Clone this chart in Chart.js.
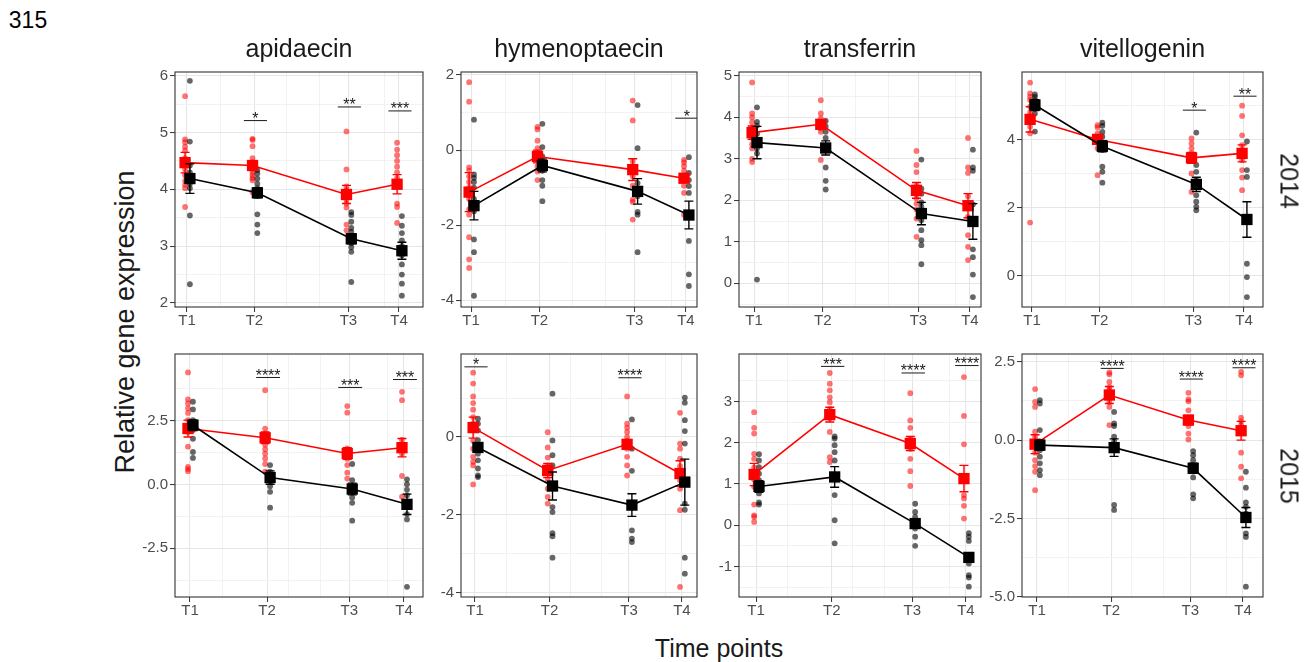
<!DOCTYPE html>
<html>
<head>
<meta charset="utf-8">
<script src="https://cdn.jsdelivr.net/npm/chart.js@4.4.1/dist/chart.umd.min.js"></script>
<style>
  body { margin: 0; background: #fff; width: 1306px; height: 662px; position: relative; overflow: hidden;
         font-family: "Liberation Sans", Arial, sans-serif; }
  canvas { position: absolute; }
  .t { position: absolute; white-space: nowrap; line-height: 1; color: #1a1a1a; transform: translate(-50%, -50%); }
</style>
</head>
<body>
<div class="t" style="left:28px;top:20px;font-size:23px;color:#000">315</div>
<div class="t" style="left:125px;top:322px;font-size:27px;transform:translate(-50%,-50%) rotate(-90deg)">Relative gene expression</div>
<div class="t" style="left:719px;top:648px;font-size:25px">Time points</div>
<script>
const genes = ['apidaecin', 'hymenoptaecin', 'transferrin', 'vitellogenin'];
const years = [2014, 2015];
const timeLabels = ['T1', 'T2', 'T3', 'T4'];
const days2014 = [0, 14, 33.5, 44];
const days2015 = [0, 15.5, 32, 43];
const minorDays2014 = [7, 20.7, 27.5, 41];
const minorDays2015 = [6.5, 19.8, 26.3, 39.6];

// ---- 2014 ----
const apidaecin2014Red = [
  [5.64, 4.88, 4.83, 4.75, 4.68, 4.55, 4.45, 4.35, 4.25, 4.15, 4.08, 4.02, 3.69],
  [4.89, 4.87, 4.76, 4.55, 4.48, 4.42, 4.36, 4.3, 4.25, 4.2, 4.16, 3.95],
  [5.02, 4.35, 4.05, 3.98, 3.9, 3.82, 3.75, 3.68, 3.38, 3.28],
  [4.82, 4.7, 4.6, 4.5, 4.4, 4.3, 4.2, 4.1, 3.75, 3.69, 3.41]
];
const apidaecin2014Black = [
  [5.91, 4.84, 4.42, 4.3, 4.22, 4.15, 4.1, 4.02, 3.54, 2.33],
  [4.34, 4.28, 4.19, 4.1, 4.02, 3.95, 3.88, 3.56, 3.38, 3.23],
  [3.6, 3.55, 3.43, 3.32, 3.25, 3.18, 3.12, 3.05, 2.98, 2.9, 2.37],
  [3.53, 3.36, 3.23, 3.1, 3.0, 2.92, 2.84, 2.68, 2.5, 2.34, 2.13]
];
const apidaecin2014RedMean = [4.47, 4.42, 3.91, 4.09];
const apidaecin2014RedSE = [0.18, 0.07, 0.16, 0.17];
const apidaecin2014BlackMean = [4.19, 3.94, 3.13, 2.92];
const apidaecin2014BlackSE = [0.26, 0.09, 0.09, 0.15];
const apidaecin2014Sig = ['', '*', '**', '***'];
const apidaecin2014SigY = [null, 5.21, 5.45, 5.38];

const hymenoptaecin2014Red = [
  [1.81, 1.29, -0.46, -0.55, -0.7, -0.85, -1.0, -1.15, -1.3, -1.58, -1.72, -2.32, -2.91, -3.14],
  [0.62, 0.55, 0.25, 0.05, -0.1, -0.25, -0.43, -0.57, -0.8],
  [1.32, 0.79, -0.3, -0.52, -0.7, -0.95, -1.32, -1.38, -1.85],
  [-0.26, -0.33, -0.43, -0.55, -0.79, -0.95, -1.14, -1.72]
];
const hymenoptaecin2014Black = [
  [0.81, -0.65, -0.74, -0.85, -1.0, -1.3, -1.5, -1.63, -2.38, -2.72, -3.88],
  [0.7, 0.08, -0.17, -0.3, -0.43, -0.55, -0.8, -0.95, -1.36],
  [1.2, 0.05, -0.88, -1.05, -1.23, -1.65, -1.72, -2.72],
  [-0.19, -0.61, -0.8, -0.96, -1.14, -2.42, -3.31, -3.62]
];
const hymenoptaecin2014RedMean = [-1.12, -0.17, -0.52, -0.75];
const hymenoptaecin2014RedSE = [0.52, 0.17, 0.29, 0.11];
const hymenoptaecin2014BlackMean = [-1.48, -0.41, -1.1, -1.73];
const hymenoptaecin2014BlackSE = [0.38, 0.17, 0.34, 0.37];
const hymenoptaecin2014Sig = ['', '', '', '*'];
const hymenoptaecin2014SigY = [null, null, null, 0.85];

const transferrin2014Red = [
  [4.84, 4.09, 4.0, 3.88, 3.75, 3.62, 3.5, 3.35, 3.25, 3.0, 2.92],
  [4.41, 4.09, 3.97, 3.85, 3.73, 3.65, 2.97],
  [3.19, 2.85, 2.68, 2.35, 2.15, 2.05, 1.92, 1.78, 1.56, 1.12],
  [3.5, 2.79, 2.66, 2.1, 1.84, 1.6, 1.16, 0.88, 0.56]
];
const transferrin2014Black = [
  [4.24, 3.89, 3.8, 3.6, 3.4, 3.25, 3.13, 0.09],
  [3.91, 3.78, 3.65, 3.5, 2.79, 2.47, 2.26],
  [2.98, 2.28, 2.16, 1.95, 1.84, 1.52, 1.28, 1.04, 0.92, 0.46],
  [3.22, 2.79, 2.71, 1.9, 1.5, 0.82, 0.63, 0.21, -0.33]
];
const transferrin2014RedMean = [3.63, 3.83, 2.24, 1.87];
const transferrin2014RedSE = [0.16, 0.1, 0.19, 0.29];
const transferrin2014BlackMean = [3.39, 3.26, 1.68, 1.49];
const transferrin2014BlackSE = [0.39, 0.17, 0.27, 0.43];
const transferrin2014Sig = ['', '', '', ''];
const transferrin2014SigY = [null, null, null, null];

const vitellogenin2014Red = [
  [5.67, 5.35, 5.25, 5.16, 4.96, 4.8, 4.6, 4.37, 4.18, 1.56],
  [4.42, 4.35, 4.18, 4.06, 3.9, 3.74, 2.95],
  [4.03, 3.88, 3.74, 3.6, 3.44, 3.0, 2.46],
  [4.99, 4.69, 4.12, 3.83, 3.6, 3.39, 3.1, 2.88, 2.51]
];
const vitellogenin2014Black = [
  [5.32, 5.25, 5.15, 5.0, 4.9, 4.76, 4.23],
  [4.49, 4.4, 4.22, 4.08, 3.88, 3.69, 3.2, 3.05, 2.73],
  [4.2, 3.25, 3.05, 2.8, 2.36, 2.17, 2.02, 1.92],
  [3.94, 3.1, 2.9, 1.6, 0.35, -0.04, -0.63]
];
const vitellogenin2014RedMean = [4.59, 4.0, 3.46, 3.59];
const vitellogenin2014RedSE = [0.37, 0.11, 0.16, 0.25];
const vitellogenin2014BlackMean = [5.01, 3.8, 2.68, 1.65];
const vitellogenin2014BlackSE = [0.16, 0.16, 0.21, 0.52];
const vitellogenin2014Sig = ['', '', '*', '**'];
const vitellogenin2014SigY = [null, null, 4.86, 5.27];

// ---- 2015 ----
const apidaecin2015Red = [
  [4.39, 3.33, 3.17, 2.98, 2.8, 2.52, 2.3, 2.05, 1.48, 0.69, 0.6, 0.52],
  [3.69, 2.19, 2.0, 1.74, 1.55, 1.38, 1.21, 1.02, 0.8, 0.5],
  [3.07, 2.81, 1.41, 1.28, 1.15, 1.0, 0.76, 0.46, 0.23],
  [3.63, 3.3, 1.74, 1.5, 1.2, 0.33, -0.48]
];
const apidaecin2015Black = [
  [3.24, 2.94, 2.52, 2.3, 2.13, 1.79, 1.27, 1.04],
  [0.76, 0.5, 0.3, 0.1, -0.07, -0.29, -0.91],
  [0.8, 0.17, -0.09, -0.29, -0.51, -0.72, -1.42],
  [0.2, 0.01, -0.2, -0.42, -0.8, -1.16, -1.37, -4.01]
];
const apidaecin2015RedMean = [2.19, 1.83, 1.21, 1.44];
const apidaecin2015RedSE = [0.33, 0.23, 0.23, 0.36];
const apidaecin2015BlackMean = [2.32, 0.27, -0.18, -0.78];
const apidaecin2015BlackSE = [0.21, 0.26, 0.23, 0.4];
const apidaecin2015Sig = ['', '****', '***', '***'];
const apidaecin2015SigY = [null, 4.19, 3.8, 4.11];

const hymenoptaecin2015Red = [
  [1.65, 1.37, 1.04, 0.87, 0.7, 0.51, 0.35, 0.17, -0.1, -0.3, -0.51, -0.64, -0.73, -1.22],
  [0.12, -0.27, -0.53, -0.73, -0.9, -1.11, -1.33, -1.54, -1.71],
  [1.04, 0.34, 0.24, 0.13, 0.0, -0.1, -0.3, -0.51, -0.73, -0.99],
  [0.62, -0.17, -0.3, -0.56, -0.75, -0.9, -1.11, -1.33, -1.88, -3.85]
];
const hymenoptaecin2015Black = [
  [0.47, 0.34, 0.17, -0.08, -0.25, -0.43, -0.6, -0.81, -0.99, -1.03],
  [1.11, -0.09, -0.47, -0.73, -1.2, -1.8, -1.93, -2.47, -2.55, -3.1],
  [0.45, -0.3, -0.87, -2.4, -2.61, -2.7],
  [1.01, 0.88, 0.43, 0.15, -0.17, -1.71, -1.87, -3.1, -3.51]
];
const hymenoptaecin2015RedMean = [0.24, -0.86, -0.19, -0.94];
const hymenoptaecin2015RedSE = [0.27, 0.18, 0.12, 0.33];
const hymenoptaecin2015BlackMean = [-0.27, -1.26, -1.75, -1.16];
const hymenoptaecin2015BlackSE = [0.12, 0.36, 0.29, 0.59];
const hymenoptaecin2015Sig = ['*', '', '****', ''];
const hymenoptaecin2015SigY = [1.8, null, 1.52, null];

const transferrin2015Red = [
  [2.74, 2.36, 2.22, 1.73, 1.61, 1.4, 1.25, 1.1, 0.93, 0.5, 0.24, 0.2, 0.08],
  [3.69, 3.43, 3.27, 3.1, 2.98, 2.82, 2.6, 2.26, 1.65, 1.53],
  [3.2, 2.54, 2.36, 2.1, 1.85, 1.61, 1.31, 0.95],
  [3.59, 2.65, 1.96, 0.73, 0.65, 0.47, 0.16]
];
const transferrin2015Black = [
  [1.72, 1.57, 1.41, 1.25, 1.09, 0.93, 0.77, 0.55, 0.5],
  [2.15, 2.1, 1.94, 1.77, 1.57, 1.2, 0.73, 0.12, -0.44],
  [0.52, 0.32, 0.2, 0.06, -0.08, -0.28, -0.5],
  [-0.19, -0.28, -0.38, -0.75, -0.93, -1.21, -1.27, -1.49]
];
const transferrin2015RedMean = [1.23, 2.68, 1.98, 1.13];
const transferrin2015RedSE = [0.27, 0.18, 0.17, 0.32];
const transferrin2015BlackMean = [0.94, 1.17, 0.04, -0.78];
const transferrin2015BlackSE = [0.14, 0.25, 0.1, 0.1];
const transferrin2015Sig = ['', '***', '****', '****'];
const transferrin2015SigY = [null, 3.85, 3.69, 3.87];

const vitellogenin2015Red = [
  [1.63, 1.22, 1.06, 0.27, 0.1, -0.21, -0.4, -0.64, -0.83, -1.01, -1.6],
  [2.16, 2.1, 1.86, 1.7, 1.6, 1.38, 1.22, 1.06, 0.48],
  [1.51, 1.3, 1.24, 0.95, 0.64, 0.45, 0.21, 0.02],
  [2.18, 2.07, 0.72, 0.6, 0.48, -0.4, -0.85, -1.22]
];
const vitellogenin2015Black = [
  [1.28, 1.17, 0.32, -0.1, -0.32, -0.53, -0.74, -0.96, -1.12],
  [0.9, 0.53, 0.45, 0.11, -0.03, -2.07, -2.23],
  [-0.35, -0.48, -0.64, -0.83, -1.0, -1.19, -1.73, -1.86],
  [-1.01, -1.52, -1.99, -2.13, -2.35, -2.98, -3.09, -4.68]
];
const vitellogenin2015RedMean = [-0.13, 1.44, 0.64, 0.3];
const vitellogenin2015RedSE = [0.3, 0.27, 0.15, 0.3];
const vitellogenin2015BlackMean = [-0.16, -0.24, -0.9, -2.47];
const vitellogenin2015BlackSE = [0.16, 0.28, 0.16, 0.32];
const vitellogenin2015Sig = ['', '****', '****', '****'];
const vitellogenin2015SigY = [null, 2.29, 1.95, 2.31];

// axis setup per panel (row by row): y range, y ticks, minor y grid, decimals, x range
const axes = [
  { y: [1.93, 6.065], ticks: [2, 3, 4, 5, 6], minor: [2.5, 3.5, 4.5, 5.5], dec: 0, x: [-2.49, 48.98] },
  { y: [-4.18, 2.08], ticks: [-4, -2, 0, 2], minor: [-3, -1, 1], dec: 0, x: [-2.06, 46.26] },
  { y: [-0.57, 5.09], ticks: [0, 1, 2, 3, 4, 5], minor: [-0.5, 0.5, 1.5, 2.5, 3.5, 4.5], dec: 0, x: [-3.07, 46.25] },
  { y: [-0.92, 5.98], ticks: [0, 2, 4], minor: [1, 3, 5], dec: 0, x: [-2.08, 47.94] },
  { y: [-4.41, 5.11], ticks: [-2.5, 0, 2.5], minor: [-3.75, -1.25, 1.25, 3.75], dec: 1, x: [-3.01, 46.82] },
  { y: [-4.11, 2.13], ticks: [-4, -2, 0], minor: [-3, -1, 1], dec: 0, x: [-2.92, 46.13] },
  { y: [-1.74, 4.15], ticks: [-1, 0, 1, 2, 3], minor: [-1.5, -0.5, 0.5, 1.5, 2.5, 3.5], dec: 0, x: [-3.5, 46.09] },
  { y: [-5.01, 2.75], ticks: [-5, -2.5, 0, 2.5], minor: [-3.75, -1.25, 1.25], dec: 1, x: [-3.13, 47.17] }
];

const panelBoxes = [
  [175, 72, 423, 307], [461, 72, 697, 307], [739, 72, 981, 307], [1022, 72, 1263, 307],
  [175, 354, 423, 597], [461, 354, 697, 597], [739, 354, 981, 597], [1022, 354, 1263, 597]
];

Chart.defaults.font.family = '"Liberation Sans", Arial, sans-serif';

const errorBars = {
  id: 'errorBars',
  beforeDatasetDraw(chart, args) {
    const ds = chart.data.datasets[args.index];
    if (!ds.se) return;
    const { ctx, scales: { x, y } } = chart;
    ctx.save();
    ctx.strokeStyle = ds.borderColor;
    ctx.lineWidth = 1.4;
    ds.data.forEach((d, i) => {
      const px = x.getPixelForValue(d.x);
      const top = y.getPixelForValue(d.y + ds.se[i]);
      const bot = y.getPixelForValue(d.y - ds.se[i]);
      ctx.beginPath();
      ctx.moveTo(px, top); ctx.lineTo(px, bot);
      ctx.moveTo(px - 4.5, top); ctx.lineTo(px + 4.5, top);
      ctx.moveTo(px - 4.5, bot); ctx.lineTo(px + 4.5, bot);
      ctx.stroke();
    });
    ctx.restore();
  }
};

const panelBorder = {
  id: 'panelBorder',
  afterDatasetsDraw(chart) {
    const { ctx, chartArea: a } = chart;
    ctx.save();
    ctx.strokeStyle = '#333333';
    ctx.lineWidth = 1.1;
    ctx.strokeRect(a.left, a.top, a.right - a.left, a.bottom - a.top);
    ctx.restore();
  }
};

const sigStars = {
  id: 'sigStars',
  afterDatasetsDraw(chart) {
    const { ctx, scales: { x, y } } = chart;
    ctx.save();
    ctx.font = '16px "Liberation Sans", Arial, sans-serif';
    ctx.fillStyle = '#1a1a1a';
    ctx.textAlign = 'center';
    ctx.textBaseline = 'alphabetic';
    chart.data.datasets.forEach(ds => {
      if (!ds.stars) return;
      const [a, b] = ds.data;
      ctx.fillText(ds.stars, x.getPixelForValue((a.x + b.x) / 2), y.getPixelForValue(a.y) + 3.5);
    });
    ctx.restore();
  }
};

const src = {
  apidaecin2014Red, apidaecin2014Black, apidaecin2014RedMean, apidaecin2014RedSE, apidaecin2014BlackMean, apidaecin2014BlackSE, apidaecin2014Sig, apidaecin2014SigY,
  hymenoptaecin2014Red, hymenoptaecin2014Black, hymenoptaecin2014RedMean, hymenoptaecin2014RedSE, hymenoptaecin2014BlackMean, hymenoptaecin2014BlackSE, hymenoptaecin2014Sig, hymenoptaecin2014SigY,
  transferrin2014Red, transferrin2014Black, transferrin2014RedMean, transferrin2014RedSE, transferrin2014BlackMean, transferrin2014BlackSE, transferrin2014Sig, transferrin2014SigY,
  vitellogenin2014Red, vitellogenin2014Black, vitellogenin2014RedMean, vitellogenin2014RedSE, vitellogenin2014BlackMean, vitellogenin2014BlackSE, vitellogenin2014Sig, vitellogenin2014SigY,
  apidaecin2015Red, apidaecin2015Black, apidaecin2015RedMean, apidaecin2015RedSE, apidaecin2015BlackMean, apidaecin2015BlackSE, apidaecin2015Sig, apidaecin2015SigY,
  hymenoptaecin2015Red, hymenoptaecin2015Black, hymenoptaecin2015RedMean, hymenoptaecin2015RedSE, hymenoptaecin2015BlackMean, hymenoptaecin2015BlackSE, hymenoptaecin2015Sig, hymenoptaecin2015SigY,
  transferrin2015Red, transferrin2015Black, transferrin2015RedMean, transferrin2015RedSE, transferrin2015BlackMean, transferrin2015BlackSE, transferrin2015Sig, transferrin2015SigY,
  vitellogenin2015Red, vitellogenin2015Black, vitellogenin2015RedMean, vitellogenin2015RedSE, vitellogenin2015BlackMean, vitellogenin2015BlackSE, vitellogenin2015Sig, vitellogenin2015SigY
};

function addText(text, x, y, extra) {
  const d = document.createElement('div');
  d.className = 't';
  d.textContent = text;
  d.style.left = x + 'px';
  d.style.top = y + 'px';
  d.style.fontSize = '25px';
  if (extra) d.style.transform = 'translate(-50%,-50%) ' + extra;
  document.body.appendChild(d);
}

const padL = 44, padT = 14, padR = 16, padB = 30;

years.forEach((year, row) => {
  const days = year === 2014 ? days2014 : days2015;
  const minorDays = year === 2014 ? minorDays2014 : minorDays2015;
  genes.forEach((gene, col) => {
    const k = row * 4 + col;
    const box = panelBoxes[k];
    const ax = axes[k];
    const key = gene + year;
    const red = src[key + 'Red'], black = src[key + 'Black'];
    const sig = src[key + 'Sig'], sigY = src[key + 'SigY'];

    const canvas = document.createElement('canvas');
    canvas.width = box[2] - box[0] + padL + padR;
    canvas.height = box[3] - box[1] + padT + padB;
    canvas.style.left = (box[0] - padL) + 'px';
    canvas.style.top = (box[1] - padT) + 'px';
    document.body.appendChild(canvas);

    const pts = (groups, off) => groups.flatMap((vals, i) => vals.map(v => ({ x: days[i] + off, y: v })));
    const means = (vals, off) => vals.map((v, i) => ({ x: days[i] + off, y: v }));

    const datasets = [
      { type: 'scatter', data: pts(red, -0.4), pointRadius: 2.9, pointBorderWidth: 0,
        pointBackgroundColor: 'rgba(255,0,0,0.55)', order: 6 },
      { type: 'scatter', data: pts(black, 0.6), pointRadius: 2.9, pointBorderWidth: 0,
        pointBackgroundColor: 'rgba(0,0,0,0.6)', order: 5 },
      { type: 'line', data: means(src[key + 'RedMean'], -0.4), se: src[key + 'RedSE'],
        borderColor: '#ff0000', borderWidth: 1.6, pointStyle: 'rect', pointRadius: 8,
        pointBackgroundColor: '#ff0000', pointBorderWidth: 0, order: 4 },
      { type: 'line', data: means(src[key + 'BlackMean'], 0.6), se: src[key + 'BlackSE'],
        borderColor: '#000000', borderWidth: 1.6, pointStyle: 'rect', pointRadius: 8,
        pointBackgroundColor: '#000000', pointBorderWidth: 0, order: 3 }
    ];
    sig.forEach((s, i) => {
      if (!s) return;
      datasets.push({ type: 'line', stars: s, borderColor: '#1a1a1a', borderWidth: 1, pointRadius: 0, order: 2,
        data: [{ x: days[i] + 0.2 - 2.4, y: sigY[i] }, { x: days[i] + 0.2 + 2.4, y: sigY[i] }] });
    });

    const xTicks = days.concat(minorDays).sort((a, b) => a - b);
    const yTicks = ax.ticks.concat(ax.minor).sort((a, b) => a - b);
    const xMajor = v => days.includes(v);
    const yMajor = v => ax.ticks.includes(v);

    new Chart(canvas, {
      type: 'scatter',
      data: { datasets },
      options: {
        responsive: false,
        animation: false,
        events: [],
        layout: { padding: { left: 4, top: padT, right: padR, bottom: 4 } },
        plugins: { legend: { display: false }, tooltip: { enabled: false } },
        scales: {
          x: {
            type: 'linear', min: ax.x[0], max: ax.x[1],
            afterBuildTicks: s => { s.ticks = xTicks.map(v => ({ value: v })); },
            afterFit: s => { s.height = 26; },
            border: { display: false },
            grid: {
              color: c => xMajor(c.tick.value) ? '#e6e6e6' : '#f1f1f1',
              lineWidth: c => xMajor(c.tick.value) ? 1.1 : 0.9,
              tickColor: c => xMajor(c.tick.value) ? '#333333' : 'rgba(0,0,0,0)',
              tickWidth: 1, tickLength: 5
            },
            ticks: {
              autoSkip: false, maxRotation: 0, minRotation: 0, padding: 0,
              color: '#4d4d4d', font: { size: 15 },
              callback: v => xMajor(v) ? timeLabels[days.indexOf(v)] : ''
            }
          },
          y: {
            type: 'linear', min: ax.y[0], max: ax.y[1],
            afterBuildTicks: s => { s.ticks = yTicks.map(v => ({ value: v })); },
            afterFit: s => { s.width = 40; },
            border: { display: false },
            grid: {
              color: c => yMajor(c.tick.value) ? '#e6e6e6' : '#f1f1f1',
              lineWidth: c => yMajor(c.tick.value) ? 1.1 : 0.9,
              tickColor: c => yMajor(c.tick.value) ? '#333333' : 'rgba(0,0,0,0)',
              tickWidth: 1, tickLength: 5
            },
            ticks: {
              autoSkip: false, padding: 2,
              color: '#4d4d4d', font: { size: 15 },
              callback: v => yMajor(v) ? v.toFixed(ax.dec) : ''
            }
          }
        }
      },
      plugins: [errorBars, panelBorder, sigStars]
    });

    if (row === 0) addText(gene, (box[0] + box[2]) / 2, 48);
    if (col === 3) addText(String(year), 1289, row === 0 ? 181 : 476, 'rotate(90deg)');
  });
});
</script>
</body>
</html>
